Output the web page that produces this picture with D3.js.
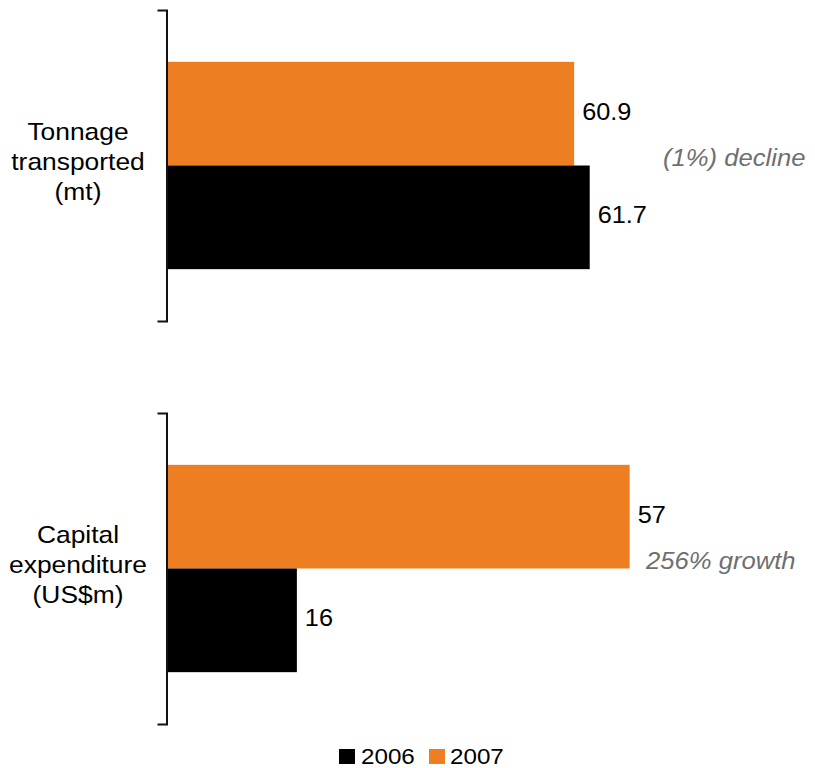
<!DOCTYPE html>
<html>
<head>
<meta charset="utf-8">
<script src="https://cdn.jsdelivr.net/npm/d3@7"></script>
<style>
  html, body { margin: 0; padding: 0; background: #fff; }
  svg { display: block; font-family: "Liberation Sans", Arial, sans-serif; }
</style>
</head>
<body>
<svg id="chart" width="815" height="768"></svg>
<script>
// Category labels, one array of lines per panel
const categoryLines = [
  ["Tonnage", "transported", "(mt)"],
  ["Capital", "expenditure", "(US$m)"]
];
const years = ["2006", "2007"];
const values2006 = [61.7, 16];
const values2007 = [60.9, 57];
const changeNotes = ["(1%) decline", "256% growth"];
// Value axis extent of each panel
const axisDomains = [[40, 65], [0, 60]];

const colors = { "2006": "#000000", "2007": "#ED7F22" };
const noteColor = "#6f6f6f";
const stretch = 1.1;              // text is drawn slightly wide

const svg = d3.select("#chart");

const panels = [
  { top: 10, bottom: 321, noteX: 663 },
  { top: 413, bottom: 724, noteX: 646 }
];
const xLeft = 167, xWidth = 487;

// Places a text element with a horizontal stretch about its anchor point
function placeText(sel, x, y) {
  return sel.attr("transform", `translate(${x},${y}) scale(${stretch},1)`);
}

panels.forEach((p, i) => {
  const g = svg.append("g");
  const y = d3.scaleBand()
    .domain(["2007", "2006"])
    .range([p.top, p.bottom])
    .paddingInner(0)
    .paddingOuter(0.5);
  const x = d3.scaleLinear()
    .domain(axisDomains[i])
    .range([xLeft, xLeft + xWidth]);

  const rows = [
    { year: "2007", value: values2007[i] },
    { year: "2006", value: values2006[i] }
  ];

  g.selectAll("rect.bar")
    .data(rows)
    .join("rect")
    .attr("class", "bar")
    .attr("x", xLeft)
    .attr("y", d => y(d.year))
    .attr("width", d => x(d.value) - xLeft)
    .attr("height", y.bandwidth())
    .attr("fill", d => colors[d.year]);

  // Bracket-style category axis
  const axis = g.append("g")
    .attr("transform", `translate(${xLeft - 0.5},0)`)
    .call(d3.axisLeft(y).tickValues([]).tickSizeOuter(9));
  axis.select(".domain").attr("stroke", "#111").attr("stroke-width", 2);

  // Value labels
  g.selectAll("text.val")
    .data(rows)
    .join("text")
    .attr("class", "val")
    .each(function (d) {
      placeText(d3.select(this), x(d.value) + 8, y(d.year) + y.bandwidth() / 2 + 6);
    })
    .attr("font-size", 23)
    .attr("fill", "#000")
    .text(d => d.value);

  // Change note between the two bars
  placeText(g.append("text"), p.noteX, y("2006"))
    .attr("font-size", 23.3)
    .attr("font-style", "italic")
    .attr("fill", noteColor)
    .text(changeNotes[i]);

  // Category label
  const mid = (p.top + p.bottom) / 2;
  categoryLines[i].forEach((line, k) => {
    placeText(g.append("text"), 78, mid + 4 + (k - 1) * 30)
      .attr("text-anchor", "middle")
      .attr("font-size", 24)
      .attr("fill", "#000")
      .text(line);
  });
});

// Legend
const legend = svg.append("g");
const legendItems = [
  { year: years[0], sx: 339, tx: 361 },
  { year: years[1], sx: 429, tx: 450 }
];
legendItems.forEach(it => {
  legend.append("rect")
    .attr("x", it.sx).attr("y", 749)
    .attr("width", 16).attr("height", 15)
    .attr("fill", colors[it.year]);
  placeText(legend.append("text"), it.tx, 764)
    .attr("font-size", 22)
    .attr("fill", "#000")
    .text(it.year);
});
</script>
</body>
</html>
